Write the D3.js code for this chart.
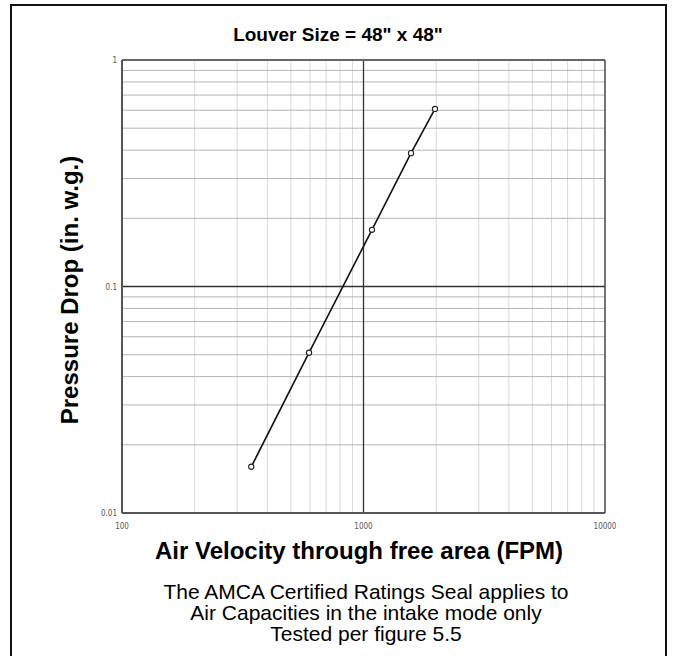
<!DOCTYPE html>
<html>
<head>
<meta charset="utf-8">
<script src="https://cdn.jsdelivr.net/npm/d3@7"></script>
<style>
  body { margin: 0; background: #fff; }
  svg { display: block; font-family: "Liberation Sans", Arial, sans-serif; }
</style>
</head>
<body>
<script>
// louver pressure drop chart
var velocity = [343, 595, 1084, 1573, 1977];
var pressure = [0.016, 0.051, 0.178, 0.388, 0.608];
var xTicks = [100, 1000, 10000];
var yTicks = [0.01, 0.1, 1];
var xTickLabels = ["100", "1000", "10000"];
var yTickLabels = ["0.01", "0.1", "1"];
var titleText = 'Louver Size = 48" x 48"';
var xLabel = "Air Velocity through free area (FPM)";
var yLabel = "Pressure Drop (in. w.g.)";
var notes = ["The AMCA Certified Ratings Seal applies to",
             "Air Capacities in the intake mode only",
             "Tested per figure 5.5"];

var w = 676;
var h = 656;
var pLeft = 122, pRight = 605, pTop = 60, pBottom = 513;

var svg = d3.select("body").append("svg")
  .attr("width", w)
  .attr("height", h);

// outer frame
svg.append("rect")
  .attr("x", 11).attr("y", 5)
  .attr("width", 655).attr("height", 660)
  .attr("fill", "none")
  .attr("stroke", "#111")
  .attr("stroke-width", 2);

var x = d3.scaleLog().domain([100, 10000]).range([pLeft, pRight]);
var y = d3.scaleLog().domain([0.01, 1]).range([pBottom, pTop]);

// minor grid
var xMinor = [];
var yMinor = [];
[100, 1000].forEach(function(d) {
  for (var k = 2; k <= 9; k++) xMinor.push(d * k);
});
[0.01, 0.1].forEach(function(d) {
  for (var k = 2; k <= 9; k++) yMinor.push(d * k);
});

svg.selectAll(".vgrid")
  .data(xMinor)
  .enter().append("line")
  .attr("class", "vgrid")
  .attr("x1", function(d) { return x(d); })
  .attr("x2", function(d) { return x(d); })
  .attr("y1", pTop).attr("y2", pBottom)
  .attr("stroke", "#d8d8d8")
  .attr("stroke-width", 1);

svg.selectAll(".hgrid")
  .data(yMinor)
  .enter().append("line")
  .attr("class", "hgrid")
  .attr("y1", function(d) { return y(d); })
  .attr("y2", function(d) { return y(d); })
  .attr("x1", pLeft).attr("x2", pRight)
  .attr("stroke", "#b4b4b4")
  .attr("stroke-width", 1);

// major grid
svg.append("line")
  .attr("x1", x(1000)).attr("x2", x(1000))
  .attr("y1", pTop).attr("y2", pBottom)
  .attr("stroke", "#333").attr("stroke-width", 1.3);
svg.append("line")
  .attr("y1", y(0.1)).attr("y2", y(0.1))
  .attr("x1", pLeft).attr("x2", pRight)
  .attr("stroke", "#333").attr("stroke-width", 1.3);

// plot border
svg.append("line").attr("x1", pLeft).attr("x2", pRight).attr("y1", pTop).attr("y2", pTop)
  .attr("stroke", "#666").attr("stroke-width", 2);
svg.append("line").attr("x1", pRight).attr("x2", pRight).attr("y1", pTop).attr("y2", pBottom)
  .attr("stroke", "#444").attr("stroke-width", 1.5);
svg.append("line").attr("x1", pLeft).attr("x2", pLeft).attr("y1", pTop).attr("y2", pBottom)
  .attr("stroke", "#555").attr("stroke-width", 2);
svg.append("line").attr("x1", pLeft).attr("x2", pRight).attr("y1", pBottom).attr("y2", pBottom)
  .attr("stroke", "#555").attr("stroke-width", 2);

// tick labels
svg.selectAll(".xtick")
  .data(xTicks)
  .enter().append("text")
  .attr("class", "xtick")
  .attr("x", function(d) { return x(d); })
  .attr("y", pBottom + 16)
  .attr("text-anchor", "middle")
  .attr("font-family", "'Liberation Sans Narrow', 'DejaVu Sans Condensed', sans-serif")
  .attr("font-size", 8)
  .attr("fill", "#555")
  .text(function(d, i) { return xTickLabels[i]; });

svg.selectAll(".ytick")
  .data(yTicks)
  .enter().append("text")
  .attr("class", "ytick")
  .attr("x", pLeft - 5)
  .attr("y", function(d) { return y(d) + 3; })
  .attr("text-anchor", "end")
  .attr("font-family", "'Liberation Sans Narrow', 'DejaVu Sans Condensed', sans-serif")
  .attr("font-size", 8)
  .attr("fill", "#555")
  .text(function(d, i) { return yTickLabels[i]; });

// data line
var pts = velocity.map(function(v, i) { return {v: v, p: pressure[i]}; });
var line = d3.line()
  .x(function(d) { return x(d.v); })
  .y(function(d) { return y(d.p); });

svg.append("path")
  .datum(pts)
  .attr("d", line)
  .attr("fill", "none")
  .attr("stroke", "#111")
  .attr("stroke-width", 1.6);

svg.selectAll(".point")
  .data(pts)
  .enter().append("circle")
  .attr("class", "point")
  .attr("cx", function(d) { return x(d.v); })
  .attr("cy", function(d) { return y(d.p); })
  .attr("r", 2.6)
  .attr("fill", "#fff")
  .attr("stroke", "#222")
  .attr("stroke-width", 1.1);

// texts
svg.append("text")
  .attr("x", 338).attr("y", 41)
  .attr("text-anchor", "middle")
  .attr("font-weight", "bold")
  .attr("font-size", 19)
  .text(titleText);

svg.append("text")
  .attr("transform", "translate(78,290) rotate(-90)")
  .attr("text-anchor", "middle")
  .attr("font-weight", "bold")
  .attr("font-size", 24)
  .text(yLabel);

svg.append("text")
  .attr("x", 359).attr("y", 559)
  .attr("text-anchor", "middle")
  .attr("font-weight", "bold")
  .attr("font-size", 24)
  .text(xLabel);

svg.selectAll(".note")
  .data(notes)
  .enter().append("text")
  .attr("class", "note")
  .attr("x", 366)
  .attr("y", function(d, i) { return 599 + i * 21; })
  .attr("text-anchor", "middle")
  .attr("font-size", 21)
  .text(function(d) { return d; });
</script>
</body>
</html>
